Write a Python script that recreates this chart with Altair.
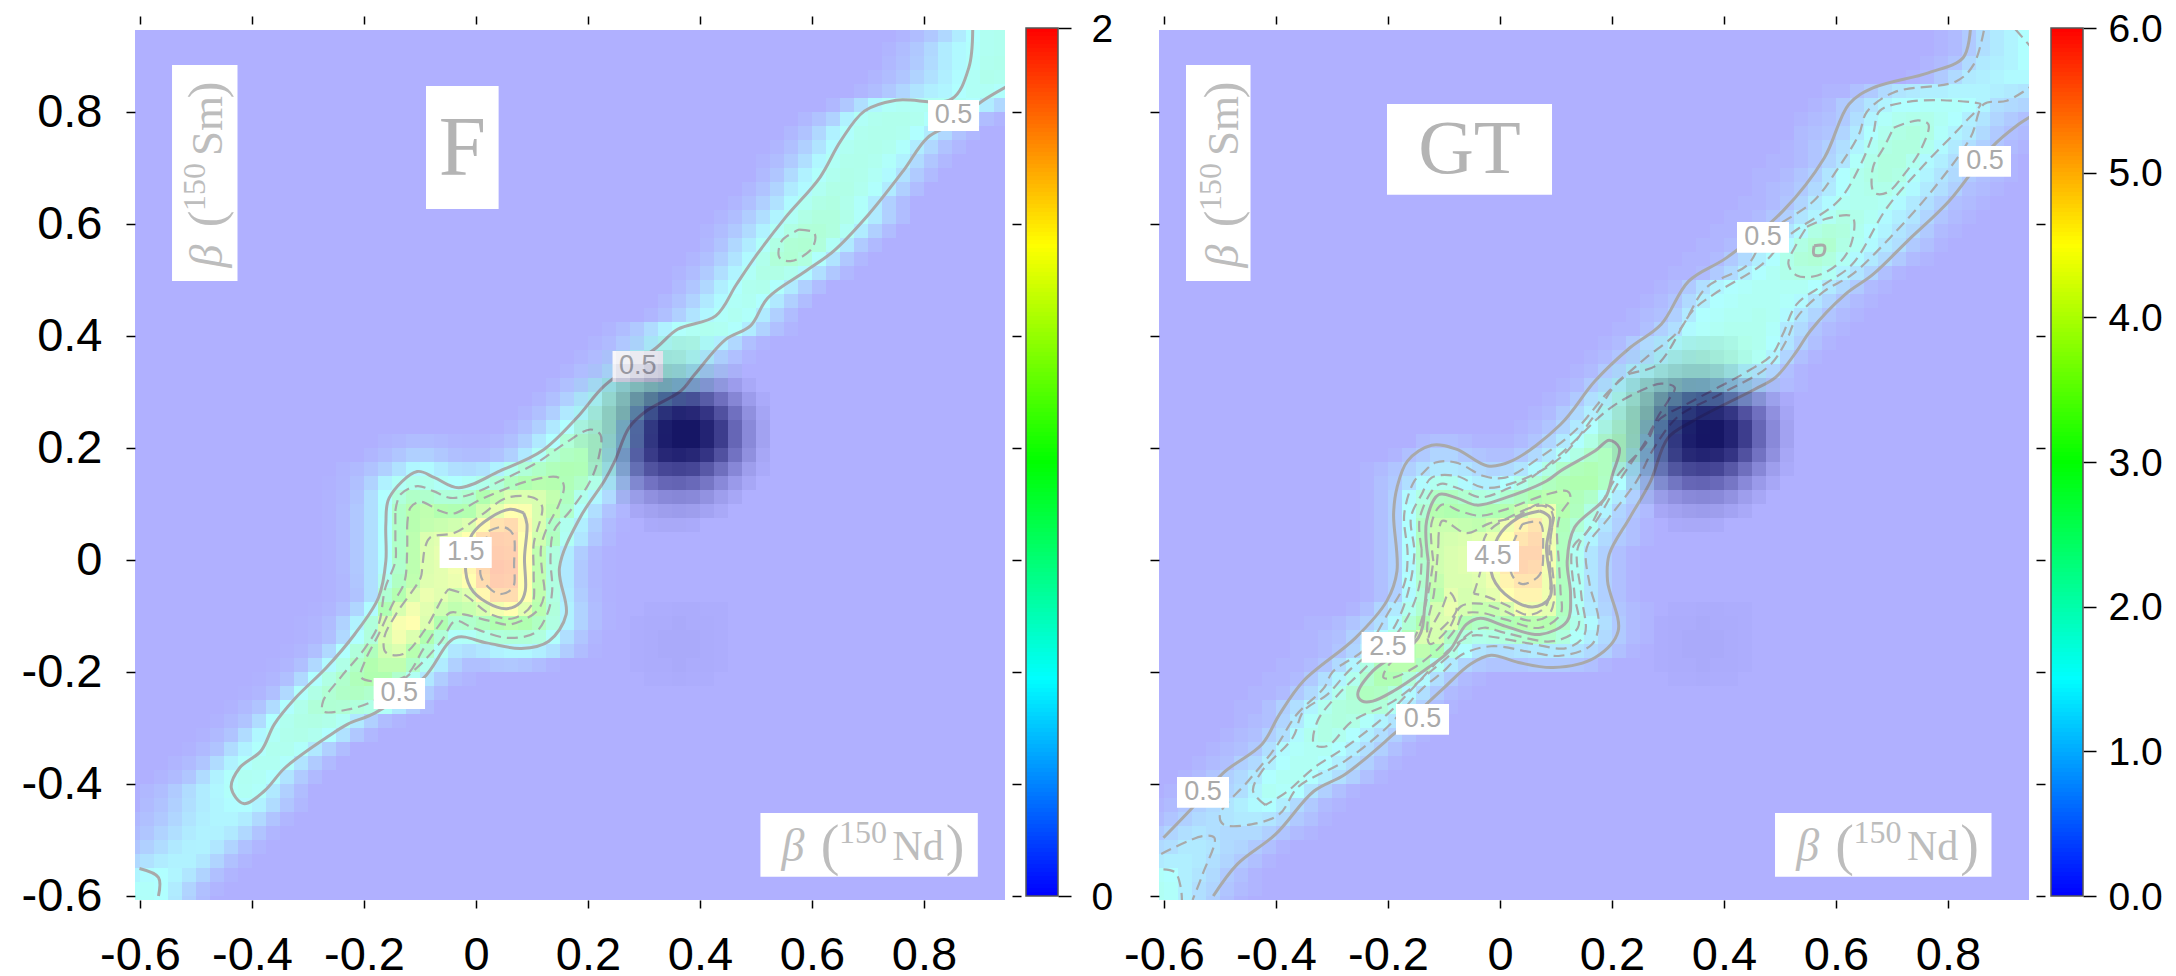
import altair as alt
import pandas as pd

# ---------- heat values: row -> (first column, values) ----------
# F in hundredths, GT in tenths, dark overlay in hundredths of opacity
F_ROWS = {
61:(54,[3,8,15,25,38,50,58,60]),60:(53,[3,8,15,25,38,46,52,58,60]),59:(53,[5,10,17,27,38,46,53,60,62]),
58:(52,[4,8,14,22,31,40,48,56,62,60]),57:(51,[4,8,15,24,33,40,44,50,56,56,52]),
56:(49,[5,15,30,45,54,56,57,58,58,56,50,38,25]),55:(47,[5,12,22,42,55,60,62,62,60,52,40,27,15,8,3]),
54:(46,[5,12,25,42,52,60,62,62,60,50,38,25,12,5]),53:(45,[4,10,20,33,48,58,62,63,60,52,38,25,12,5]),
52:(44,[3,8,17,30,45,56,62,63,60,53,42,27,14,5]),51:(44,[6,14,27,42,52,60,64,62,56,47,32,17,7]),
50:(43,[5,12,23,37,47,58,65,65,60,52,37,20,8]),49:(42,[4,10,20,32,47,58,66,68,63,53,37,20,8]),
48:(41,[4,9,18,30,43,56,66,71,71,64,53,37,20,8]),47:(40,[3,8,16,27,42,55,67,74,75,70,56,38,20,8]),
46:(40,[5,13,25,38,53,67,76,78,72,55,36,17,6]),45:(39,[4,10,20,33,47,62,74,77,70,52,33,15,5]),
44:(38,[3,8,17,30,43,55,65,66,60,47,30,15,5]),43:(38,[6,14,25,40,50,60,62,52,37,20,8]),
42:(37,[5,12,22,36,47,55,58,50,36,20,8]),41:(36,[4,10,20,33,45,53,58,53,37,20,8]),
40:(33,[3,8,16,28,42,52,57,60,58,52,38,22,10,3]),39:(32,[3,7,15,26,42,55,62,63,53,40,25,10,3]),
38:(31,[3,7,15,26,45,57,63,63,55,40,22,10,3]),37:(30,[3,8,15,28,47,60,66,66,60,48,30,15,5]),
36:(29,[4,10,20,37,53,63,68,68,63,50,33,17,6]),35:(28,[4,10,20,37,52,66,70,70,66,50,32,15,5]),
34:(27,[4,10,20,36,50,64,72,72,55,35,17,6]),33:(26,[4,10,20,36,50,66,72,72,55,33,15,5]),
32:(17,[3,5,8,8,6,4,3,3,5,10,20,36,50,75,82,82,66,50,30,12,4]),
31:(16,[4,8,14,20,20,15,10,8,8,12,20,36,55,78,87,92,82,58,34,14,4]),
30:(14,[3,6,12,20,32,45,47,38,30,28,32,42,60,75,85,93,97,95,78,55,30,12,3]),
29:(13,[1,4,10,22,42,55,63,62,55,50,55,62,73,90,100,105,103,95,85,65,42,22,7]),
28:(13,[2,5,13,30,50,72,85,82,74,74,80,100,112,125,127,125,112,90,62,45,27,10,3]),
27:(13,[2,6,15,30,52,85,105,110,102,98,102,120,135,150,147,125,108,82,52,30,13,4]),
26:(13,[2,6,15,30,50,85,105,112,116,120,128,152,168,173,155,125,85,60,40,20,7,1]),
25:(13,[2,6,15,30,50,85,108,127,132,138,150,170,180,178,150,120,90,57,34,15,5]),
24:(13,[2,6,15,30,50,85,108,128,135,142,152,175,182,180,150,110,70,38,18,6,1]),
23:(13,[2,6,15,30,48,82,108,128,133,142,155,175,184,182,150,110,68,36,16,5,1]),
22:(13,[2,5,14,30,60,88,110,130,133,138,150,172,182,180,150,110,68,36,16,5,1]),
21:(13,[2,5,12,30,78,102,125,138,132,120,130,155,172,172,150,110,68,38,18,6,1]),
20:(12,[1,4,10,24,48,98,125,142,132,118,110,115,125,142,150,133,105,72,42,22,8,2]),
19:(11,[1,3,8,22,42,72,125,145,150,128,100,78,82,90,100,105,100,88,68,42,22,8,2]),
18:(11,[1,4,10,26,50,72,125,142,128,100,75,53,55,65,72,75,75,70,52,30,14,4]),
17:(10,[1,4,10,26,50,72,92,120,128,105,80,55,35,30,35,42,45,45,40,32,18,8,2]),
16:(9,[1,4,10,26,47,65,85,102,110,110,85,60,38,20,10,10,14,15,13,8,3]),
15:(8,[1,4,10,26,50,67,82,93,100,100,82,58,35,18,7,3]),14:(7,[1,4,10,26,52,66,77,85,87,82,72,58,35,18,7]),
13:(6,[2,6,13,28,50,63,74,77,76,72,66,55,35,18,7]),12:(5,[2,6,13,28,50,60,66,67,64,56,36,20,8,3]),
11:(4,[2,6,13,28,45,55,62,64,60,50,32,15,5]),10:(3,[2,6,13,28,42,52,60,60,53,36,20,8]),
9:(2,[3,7,14,28,42,52,58,58,52,33,17,6]),8:(1,[3,7,14,28,42,52,58,56,50,33,17,6]),
7:(0,[5,9,17,28,38,45,53,57,53,36,20,8]),6:(0,[7,12,20,30,38,44,48,49,42,28,14,5]),
5:(-1,[5,10,16,24,33,40,44,44,38,26,13,4]),4:(-1,[8,14,22,30,37,42,42,36,25,13,4]),
3:(-1,[14,20,28,36,41,42,35,23,11,4]),2:(-1,[26,32,38,42,42,35,23,11,4]),1:(-1,[44,48,50,44,34,22,10,3]),
0:(-1,[52,53,50,38,23,10,3]),-1:(-1,[55,54,50,36,20,8]),
}
GT_ROWS = {
61:(55,[1,2,5,9,11,13,15]),60:(55,[1,2,5,9,11,13,15]),59:(54,[1,2,4,8,11,12,13,15]),58:(53,[1,2,5,8,11,12,13,14,14]),
57:(47,[1,1,3,5,8,10,11,12,12,13,13,13,12,11,10]),56:(46,[1,2,5,7,10,13,15,15,16,16,16,15,13,9,8,7]),
55:(45,[1,2,3,5,9,13,16,18,19,19,17,15,12,10,7,5,3]),54:(45,[2,3,4,7,11,15,18,20,21,20,16,13,11,8,5,3,2]),
53:(44,[1,2,4,6,9,13,17,20,21,21,18,14,11,9,6,4,2,1]),52:(43,[1,1,2,4,7,10,16,19,21,21,18,14,12,9,7,4,2,1]),
51:(42,[1,1,2,4,6,10,15,18,20,21,20,16,13,10,8,5,3,2,1]),50:(42,[1,2,3,5,8,11,15,18,19,19,17,14,11,9,6,3,2,1]),
49:(41,[1,1,2,4,7,11,14,17,18,18,17,14,11,9,6,3,2,1]),48:(40,[1,1,2,4,6,10,13,17,20,19,17,14,12,10,7,4,2,1]),
47:(39,[1,1,2,4,6,10,14,20,22,21,18,15,13,10,8,5,2,1]),46:(38,[1,1,2,3,6,10,14,20,23,24,20,17,14,11,9,5,3,1]),
45:(37,[1,1,2,5,8,12,15,19,22,23,21,17,14,11,8,5,2,1]),44:(36,[1,1,2,5,8,12,15,17,19,20,20,17,13,10,7,3,1]),
43:(35,[1,2,5,9,13,15,16,17,17,17,17,15,11,8,5,2,1]),42:(34,[1,2,4,8,12,15,16,17,17,17,16,14,10,7,4,2,1]),
41:(33,[1,2,3,6,11,15,16,17,17,18,17,14,10,7,4,2,1]),40:(32,[1,1,3,6,9,14,16,17,18,18,18,16,11,8,4,2,1]),
39:(31,[1,2,5,8,11,15,17,18,19,19,19,18,15,10,6,3,1]),38:(30,[1,2,4,7,10,14,17,19,20,20,20,19,17,13,7,3,1]),
37:(29,[1,2,5,8,13,16,18,19,20,20,19,17,14,11,7,3,1]),36:(28,[1,2,5,9,14,17,20,20,20,18,17,16,13,11,8,4,2,1]),
35:(27,[1,2,5,9,13,18,21,22,21,18,16,14,11,9,6,3,1]),34:(26,[1,2,5,8,12,16,20,23,23,20,15,10,6,3,1]),
33:(25,[1,2,4,7,11,15,19,23,24,20,15,10,5,2,1]),
32:(18,[2,3,3,2,1,1,1,2,4,7,11,15,20,24,26,23,16,11,5,2,1]),
31:(16,[1,3,5,7,7,5,4,3,3,5,8,11,16,20,25,27,26,19,13,8,4,2,1]),
30:(14,[1,2,4,6,9,11,11,10,8,7,8,10,14,20,25,28,29,27,20,13,9,5,2,1]),
29:(14,[1,3,5,9,14,18,18,14,12,12,15,19,23,27,29,30,30,26,15,10,6,3,1]),
28:(14,[1,3,6,14,20,26,27,24,21,20,24,27,30,32,32,28,25,16,11,6,3,1]),
27:(14,[1,3,6,15,23,31,30,29,28,29,31,35,42,42,31,27,20,13,7,4,2]),
26:(14,[1,3,6,15,26,35,35,34,33,36,42,47,50,42,28,23,17,10,6,3,1]),
25:(14,[1,3,6,15,27,36,37,38,39,41,45,50,52,42,27,19,13,8,5,3,1]),
24:(14,[1,3,6,15,26,36,38,39,40,43,49,53,53,43,27,17,10,6,3,1]),
23:(14,[1,3,6,14,24,36,38,39,40,43,49,53,52,43,27,17,10,6,3,1]),
22:(14,[1,3,6,15,24,34,38,38,39,42,47,50,50,42,27,17,10,6,3,1]),
21:(14,[1,3,6,14,22,32,40,37,38,40,45,47,47,42,27,17,10,6,3,1]),
20:(13,[1,3,7,11,18,24,37,41,37,34,34,37,43,42,40,27,17,11,7,4,2,1]),
19:(10,[1,1,2,4,6,9,14,23,30,38,39,29,26,27,29,31,32,31,25,19,14,9,5,2,1]),
18:(9,[1,1,2,3,6,9,14,20,28,38,37,26,21,19,20,21,24,26,25,21,16,12,8,5,2,1]),
17:(9,[1,1,2,4,7,11,17,24,31,33,29,20,15,10,9,9,10,11,11,11,10,8,6,3,1]),
16:(8,[1,1,2,4,8,13,20,28,32,32,27,17,11,7,5,4,4,4,5,5,5,4,3,1]),
15:(7,[1,1,2,5,9,13,18,24,29,29,22,14,9,5,2,1]),14:(6,[1,1,2,5,8,12,18,23,27,26,21,14,9,5,2,1]),
13:(5,[1,1,3,6,9,13,18,21,22,23,22,17,11,6,3,1]),12:(5,[1,2,3,7,11,16,20,21,20,16,13,10,6,3,1]),
11:(4,[1,2,3,6,9,14,18,20,18,15,12,9,6,3,1]),10:(3,[1,2,3,5,9,14,16,17,17,15,12,9,6,3,1]),
9:(2,[1,2,3,6,8,12,15,17,17,15,12,9,6,3,1]),8:(1,[1,2,4,6,8,11,15,17,17,15,12,9,6,3,1]),
7:(0,[1,2,3,5,7,9,13,17,16,15,10,6,3,1]),6:(-1,[1,2,4,6,8,10,12,14,15,12,8,5,2,1]),
5:(-1,[2,4,6,8,9,10,11,11,10,8,5,3,1]),4:(-1,[5,7,9,10,9,8,8,8,6,4,2,1]),3:(-1,[8,9,11,11,10,8,7,5,3,1]),
2:(-1,[11,12,12,11,9,7,5,3,1]),1:(-1,[16,15,12,10,8,5,3,1]),0:(-1,[17,16,12,9,7,4,2,1]),-1:(-1,[17,16,12,9,6,3,1]),
}
DARK_ROWS = {
39:(35,[3,5,6,6,5,3]),38:(33,[3,5,8,10,11,10,8,5,2]),37:(32,[3,6,10,14,18,20,20,18,14,8,4]),
36:(31,[3,8,15,22,28,33,36,36,33,27,19,11,4]),35:(31,[4,8,16,28,42,52,60,62,60,50,37,24,11,3]),
34:(31,[5,10,20,32,50,66,76,80,78,70,54,36,18,6]),33:(31,[5,10,20,35,55,72,84,88,88,80,65,42,22,8]),
32:(31,[5,10,20,35,55,72,84,88,88,80,65,42,22,8]),31:(32,[10,20,35,52,68,78,80,78,70,54,35,18,5]),
30:(32,[8,15,28,43,54,60,62,60,50,37,23,10,3]),29:(33,[8,16,27,35,42,43,40,33,22,12,5]),
28:(34,[8,13,18,22,23,22,17,10,5]),27:(35,[5,8,10,11,10,7,4]),26:(36,[3,4,4,3]),
20:(36,[1,1,2,2,1,1]),19:(35,[1,2,2,3,2,2,1]),18:(35,[1,2,3,3,3,2,1]),17:(35,[1,2,3,3,3,2,1]),
16:(35,[1,2,2,3,2,2,1]),15:(36,[1,1,2,1,1]),
}

# ---------- contours ----------
F_SOLID = [
 [(.887,.948),(.880,.879),(.849,.823),(.750,.821),(.694,.802),(.651,.748),(.614,.683),(.552,.611),(.502,.546),(.465,.492),(.428,.436),(.360,.412),(.322,.379),(.229,.311),(.180,.254),(.118,.195),(.043,.159),(-.031,.129),(-.074,.147),(-.105,.158),(-.155,.111),(-.161,.064),(-.161,-.002),(-.174,-.067),(-.217,-.133),(-.267,-.192),(-.322,-.246),(-.360,-.293),(-.384,-.341),(-.422,-.371),(-.437,-.407),(-.415,-.435),(-.378,-.4125),(-.341,-.371),(-.267,-.317),(-.229,-.293),(-.180,-.273),(-.093,-.210),(-.037,-.139),(.019,-.148),(.081,-.158),(.130,-.145),(.161,-.097),(.149,-.014),(.186,.076),(.229,.141),(.248,.177),(.273,.236),(.304,.266),(.366,.302),(.391,.332),(.446,.394),(.490,.418),(.521,.468),(.589,.516),(.639,.552),(.701,.617),(.763,.695),(.806,.754),(.849,.778),(.905,.820),(.949,.846)],
 [(-.601,-.551),(-.567,-.567),(-.567,-.6)],
 [(.085,.084),(.061,.0905),(.0255,.0756),(-.007,.0459),(-.019,-.0077),(-.010,-.049),(.0196,-.076),(.055,-.087),(.079,-.076),(.088,-.055),(.0866,.004),(.091,.064),(.085,.084)],
]
F_DASHED = [
 [(.0226,.052),(.049,.059),(.066,.046),(.068,-.008),(.066,-.049),(.043,-.061),(.0226,-.049),(.008,-.026),(.0226,.052)],
 [(-.049,-.052),(-.022,-.061),(.026,-.097),(.067,-.104),(.1,-.079),(.103,-.026),(.103,.028),(.118,.096),(.103,.111),(.055,.111),(.008,.079),(-.037,.049),(-.082,.04),(-.091,.022),(-.096,-.014),(-.099,-.032),(-.143,-.097),(-.164,-.139),(-.161,-.165),(-.130,-.168),(-.093,-.127),(-.056,-.061),(-.049,-.052)],
 [(-.123,.058),(-.117,.0935),(-.099,.104),(-.064,.0875),(-.040,.083),(.002,.105),(.043,.123),(.097,.142),(.148,.147),(.157,.132),(.148,.099),(.127,.058),(.116,.022),(.118,-.020),(.122,-.061),(.109,-.091),(.061,-.115),(.026,-.109),(-.022,-.097),(-.046,-.094),(-.067,-.118),(-.093,-.157),(-.130,-.210),(-.205,-.210),(-.198,-.180),(-.174,-.133),(-.149,-.079),(-.128,-.04),(-.123,.016),(-.123,.058)],
 [(-.144,.0875),(-.135,.117),(-.105,.132),(-.076,.123),(-.046,.111),(-.010,.117),(.043,.141),(.109,.174),(.157,.207),(.204,.233),(.222,.224),(.219,.183),(.204,.141),(.168,.0875),(.139,.052),(.133,.004),(.136,-.055),(.127,-.097),(.105,-.130),(.056,-.139),(-.006,-.121),(-.037,-.109),(-.062,-.145),(-.105,-.192),(-.180,-.25),(-.229,-.267),(-.273,-.270),(-.273,-.252),(-.242,-.210),(-.198,-.157),(-.174,-.115),(-.162,-.05),(-.144,-.002),(-.144,.040),(-.144,.0875)],
 [(.577,.590),(.604,.584),(.601,.558),(.564,.534),(.542,.540),(.546,.570),(.577,.590)],
]
GT_SOLID = [
 [(-.601,-.496),(-.549,-.442),(-.494,-.380),(-.425,-.329),(-.394,-.276),(-.351,-.216),(-.258,-.139),(-.202,-.073),(-.184,-.020),(-.190,.082),(-.184,.129),(-.165,.177),(-.122,.205),(-.078,.198),(-.022,.168),(.021,.177),(.108,.242),(.170,.320),(.232,.379),(.288,.421),(.337,.498),(.405,.540),(.505,.623),(.579,.718),(.623,.814),(.666,.843),(.765,.870),(.827,.897),(.840,.948)],
 [(-.512,-.6),(-.469,-.543),(-.401,-.490),(-.332,-.4125),(-.277,-.383),(-.190,-.311),(-.103,-.231),(-.053,-.186),(-.016,-.170),(.033,-.183),(.095,-.192),(.170,-.174),(.211,-.127),(.192,-.0375),(.195,.010),(.232,.076),(.269,.141),(.300,.218),(.344,.248),(.455,.305),(.492,.326),(.530,.373),(.554,.409),(.616,.474),(.666,.510),(.728,.570),(.802,.641),(.877,.736),(.926,.778),(.949,.793)],
 [(-.128,-.002),(-.131,.070),(-.109,.117),(-.078,.111),(-.041,.098),(.009,.111),(.083,.141),(.108,.159),(.170,.195),(.195,.214),(.213,.2),(.201,.153),(.188,.111),(.133,.058),(.120,-.002),(.126,-.061),(.120,-.109),(.071,-.133),(.009,-.118),(-.035,-.104),(-.06,-.115),(-.091,-.163),(-.128,-.192),(-.190,-.234),(-.227,-.252),(-.246,-.252),(-.254,-.240),(-.227,-.198),(-.146,-.139),(-.134,-.079),(-.128,-.002)],
 [(.071,.0875),(.033,.0756),(-.004,.04),(-.016,-.02),(.009,-.061),(.058,-.084),(.089,-.067),(.083,.022),(.089,.0756),(.071,.0875)],
 [(.561,.561),(.579,.561),(.577,.546),(.561,.545),(.561,.561)],
]
GT_DASHED = [
 [(-.605,-.525),(-.531,-.493),(-.510,-.496),(-.531,-.561),(-.549,-.607)],
 [(-.601,-.5525),(-.580,-.558),(-.570,-.585),(-.568,-.607)],
 [(.920,.948),(.949,.915)],
 [(.864,.945),(.846,.885),(.815,.855),(.703,.835),(.655,.80),(.641,.76),(.604,.70),(.56,.641),(.474,.58),(.443,.528),(.368,.486),(.319,.409),(.257,.358),(.195,.302),(.133,.230),(.071,.183),(.009,.147),(-.029,.150),(-.078,.174),(-.115,.174),(-.140,.153),(-.153,.141),(-.171,.082),(-.165,.010),(-.171,-.043),(-.2,-.095),(-.239,-.157),(-.299,-.2),(-.314,-.228),(-.363,-.276),(-.401,-.335),(-.450,-.395),(-.500,-.454),(-.494,-.472),(-.444,-.472),(-.394,-.454),(-.36,-.405),(-.277,-.359),(-.202,-.299),(-.14,-.231),(-.1,-.198),(-.07,-.17),(-.016,-.154),(.058,-.165),(.108,-.171),(.164,-.151),(.176,-.109),(.160,-.043),(.155,.022),(.195,.076),(.244,.141),(.275,.2),(.319,.257),(.393,.296),(.480,.346),(.511,.391),(.530,.433),(.579,.480),(.629,.510),(.697,.576),(.771,.659),(.840,.754),(.864,.814),(.905,.82),(.949,.846)],
 [(-.419,-.4375),(-.441,-.4125),(-.425,-.377),(-.370,-.317),(-.351,-.270),(-.308,-.240),(-.27,-.198),(-.202,-.139),(-.171,-.08),(-.153,.010),(-.159,.076),(-.140,.117),(-.122,.147),(-.078,.150),(-.029,.129),(.033,.141),(.108,.183),(.170,.260),(.219,.326),(.281,.349),(.344,.445),(.381,.474),(.468,.528),(.517,.58),(.604,.641),(.641,.70),(.666,.76),(.678,.802),(.728,.818),(.790,.821),(.852,.816),(.858,.814),(.827,.778),(.753,.701),(.691,.629),(.629,.528),(.579,.492),(.530,.457),(.505,.403),(.486,.367),(.443,.3375),(.344,.284),(.281,.248),(.257,.207),(.213,.141),(.176,.076),(.139,.022),(.145,-.061),(.151,-.133),(.120,-.157),(.058,-.15),(-.022,-.136),(-.05,-.135),(-.085,-.155),(-.12,-.19),(-.153,-.226),(-.202,-.276),(-.277,-.335),(-.332,-.371),(-.382,-.415),(-.419,-.4375)],
 [(.703,.772),(.747,.785),(.765,.778),(.753,.736),(.722,.689),(.691,.656),(.668,.656),(.666,.701),(.685,.736),(.703,.772)],
 [(.548,.595),(.585,.610),(.629,.613),(.629,.571),(.610,.535),(.567,.508),(.530,.508),(.515,.529),(.530,.565),(.548,.595)],
 [(-.14,.02),(-.143,.076),(-.109,.135),(-.075,.128),(-.035,.112),(.015,.128),(.06,.15),(.12,.2),(.195,.27),(.257,.305),(.288,.315),(.312,.308),(.300,.284),(.281,.254),(.262,.21),(.207,.147),(.155,.05),(.13,.022),(.133,-.061),(.139,-.121),(.095,-.145),(.009,-.130),(-.029,-.121),(-.06,-.135),(-.085,-.165),(-.125,-.2),(-.190,-.252),(-.264,-.288),(-.308,-.332),(-.332,-.329),(-.326,-.288),(-.289,-.240),(-.246,-.198),(-.19,-.139),(-.159,-.09),(-.143,-.04),(-.14,.02)],
 [(-.119,-.002),(-.122,.067),(-.103,.099),(-.072,.0875),(-.035,.079),(.009,.090),(.083,.117),(.120,.123),(.126,.111),(.108,.082),(.102,.052),(.105,-.002),(.108,-.055),(.108,-.097),(.071,-.121),(.009,-.106),(-.035,-.094),(-.066,-.097),(-.078,-.121),(-.109,-.157),(-.153,-.192),(-.190,-.210),(-.208,-.210),(-.202,-.192),(-.153,-.139),(-.130,-.067),(-.119,-.002)],
 [(-.11,.03),(-.103,.07),(-.06,.048),(-.02,.065),(.03,.078),(.07,.1),(.095,.09),(.09,.04),(.093,-.01),(.097,-.07),(.085,-.1),(.05,-.108),(.005,-.09),(-.035,-.078),(-.07,-.083),(-.09,-.12),(-.125,-.15),(-.13,-.12),(-.118,-.06),(-.11,.03)],
 [(-.047,-.06),(-.035,-.02),(-.025,.045),(.03,.083),(.075,.097),(.093,.085),(.088,.02),(.09,-.05),(.08,-.085),(.05,-.098),(.01,-.08),(-.025,-.065),(-.047,-.06)],
 [(-.128,-.139),(-.122,-.121),(-.103,-.085),(-.091,-.058),(-.084,-.064),(-.078,-.091),(-.109,-.127)],
 [(.04,.064),(.071,.067),(.077,.022),(.071,-.026),(.04,-.043),(.021,-.026),(.021,.022),(.04,.064)],
]

# ---------- boxes: x0, x1, y0, y1, text ----------
F_BOXES = [(.8072,.8982,.7661,.8215,"0.5"),(.2438,.3340,.3179,.3733,"0.5"),(-.0650,.0281,-.0142,.0411,"1.5"),(-.1828,-.0910,-.2660,-.2107,"0.5")]
GT_BOXES = [(.8193,.9125,.6845,.7393,"0.5"),(.4232,.5161,.5488,.6036,"0.5"),(-.0589,.0340,-.0208,.0340,"4.5"),(-.2471,-.1528,-.1833,-.1285,"2.5"),(-.1857,-.0910,-.3119,-.2571,"0.5"),(-.5768,-.4839,-.4423,-.3875,"0.5")]
F_PANEL_BOXES = [(-.0893,.0404,.6268,.8465),(-.5428,-.4259,.4983,.8840),(.5079,.8961,-.5655,-.4517)]
GT_PANEL_BOXES = [(-.2018,.0929,.6524,.8143),(-.5607,-.4455,.4983,.8840),(.4911,.8777,-.5655,-.4517)]
F_TITLE = ("F", -.0245, .7340, 85)
GT_TITLE = ("GT", -.0545, .7330, 77)
# text pieces: text, x, y, size, italic
Y_PIECES = [("β", -.4785, .5429, 46, True), ("(", -.4785, .6090, 50, False), ("150", -.5018, .6661, 32, False), ("Sm", -.4785, .7750, 45, False), (")", -.4785, .8393, 50, False)]
X_PIECES = [("β", .5661, -.5125, 46, True), ("(", .6322, -.5125, 56, False), ("150", .6911, -.4875, 32, False), ("Nd", .7893, -.5125, 42, False), (")", .8554, -.5125, 56, False)]
GT_Y_SHIFT = -.0143
GT_X_SHIFT = -.0168

TICKS = [-.6, -.4, -.2, 0, .2, .4, .6, .8]
CB_STEPS = 217
GREY = "#a9a9a9"
FONT = "Liberation Sans"
SERIF = "Liberation Serif"

X0 = -0.6 - 5 / 560
Y0 = -0.6 - 4 / 560
SX = alt.Scale(domain=[X0, X0 + 870 / 560], nice=False, zero=False)
SY = alt.Scale(domain=[Y0, Y0 + 870 / 560], nice=False, zero=False)
LABEL = "'' + round(datum.value * 10) / 10"


def grid(rows, unit):
    out = []
    for j in range(-1, 62):
        start, vals = rows.get(j, (0, []))
        for i in range(-1, 62):
            k = i - start
            v = vals[k] * unit if 0 <= k < len(vals) else 0.0
            out.append({"x": -.6 + i * .025, "x2": -.6 + (i + 1) * .025, "y": -.6 + j * .025, "y2": -.6 + (j + 1) * .025, "v": v})
    return pd.DataFrame(out)


def dark():
    out = []
    for j, (start, vals) in DARK_ROWS.items():
        for k, v in enumerate(vals):
            i = start + k
            out.append({"x": -.6 + i * .025, "x2": -.6 + (i + 1) * .025, "y": -.6 + j * .025, "y2": -.6 + (j + 1) * .025, "d": v / 100})
    return pd.DataFrame(out)


def lines(cs):
    return pd.DataFrame([{"c": n, "o": k, "x": p[0], "y": p[1]} for n, c in enumerate(cs) for k, p in enumerate(c)])


def color_scale(top):
    return alt.Scale(domain=[0, top * .25, top * .5, top * .75, top], range=["#0000ff", "#00ffff", "#00ff00", "#ffff00", "#ff0000"], interpolate="rgb")


NX = alt.X("x:Q", scale=SX, axis=None, title=None)
NY = alt.Y("y:Q", scale=SY, axis=None, title=None)


def pieces(items, angle, dx, dy):
    out = []
    for t, x, y, size, italic in items:
        out.append(alt.Chart(pd.DataFrame([{"t": t, "x": x + dx, "y": y + dy}])).mark_text(
            font=SERIF, fontSize=size, color="#bdbdbd", angle=angle, fontStyle="italic" if italic else "normal").encode(x=NX, y=NY, text="t:N"))
    return out


def panel(rows, unit, top, solid, dashed, boxes, pboxes, title, yshift, xshift, show_labels):
    heat = alt.Chart(grid(rows, unit)).mark_rect(clip=True, opacity=.31, strokeWidth=0).encode(
        x=alt.X("x:Q", scale=SX, title=None, axis=alt.Axis(orient="bottom", values=TICKS, labelExpr=LABEL, domain=False, grid=False, tickSize=8, tickWidth=1.5, tickColor="black", labelFont=FONT, labelFontSize=47, labelColor="black", labelPadding=24, labelOverlap=False)),
        x2="x2:Q",
        y=alt.Y("y:Q", scale=SY, title=None, axis=alt.Axis(orient="left", values=TICKS, labelExpr=LABEL, domain=False, grid=False, tickSize=9, tickWidth=1.5, tickColor="black", labels=show_labels, labelFont=FONT, labelFontSize=47, labelColor="black", labelPadding=24, labelOverlap=False)),
        y2="y2:Q",
        color=alt.Color("v:Q", scale=color_scale(top), legend=None),
    )
    sol = alt.Chart(lines(solid)).mark_line(clip=True, color=GREY, strokeWidth=3, interpolate="catmull-rom").encode(x=NX, y=NY, detail="c:N", order="o:Q")
    das = alt.Chart(lines(dashed)).mark_line(clip=True, color=GREY, strokeWidth=2.2, strokeDash=[11, 6], interpolate="catmull-rom").encode(x=NX, y=NY, detail="c:N", order="o:Q")
    b = pd.DataFrame([{"x": q[0], "x2": q[1], "y": q[2], "y2": q[3], "t": q[4], "mx": (q[0] + q[1]) / 2, "my": (q[2] + q[3]) / 2} for q in boxes])
    bx = alt.Chart(b).mark_rect(fill="white").encode(x=NX, x2="x2:Q", y=NY, y2="y2:Q")
    bt = alt.Chart(b).mark_text(font=FONT, fontSize=27, color="#aaaaaa").encode(x=alt.X("mx:Q", scale=SX, axis=None), y=alt.Y("my:Q", scale=SY, axis=None), text="t:N")
    p = pd.DataFrame(pboxes, columns=["x", "x2", "y", "y2"])
    pb = alt.Chart(p).mark_rect(fill="white").encode(x=NX, x2="x2:Q", y=NY, y2="y2:Q")
    tt = alt.Chart(pd.DataFrame([{"t": title[0], "x": title[1], "y": title[2]}])).mark_text(font=SERIF, fontSize=title[3], color="#b4b4b4").encode(x=NX, y=NY, text="t:N")
    dk = alt.Chart(dark()).mark_rect(clip=True, color="#000050", strokeWidth=0).encode(x=NX, x2="x2:Q", y=NY, y2="y2:Q", opacity=alt.Opacity("d:Q", scale=None))
    ax = alt.Chart(pd.DataFrame([{"x": 0, "y": 0}])).mark_point(opacity=0).encode(
        x=alt.X("x:Q", scale=SX, title=None, axis=alt.Axis(orient="top", values=TICKS, labels=False, domain=False, grid=False, tickSize=8, tickWidth=1.5, tickColor="black", offset=6)),
        y=alt.Y("y:Q", scale=SY, title=None, axis=alt.Axis(orient="right", values=TICKS, labels=False, domain=False, grid=False, tickSize=9, tickWidth=1.5, tickColor="black", offset=7)),
    )
    txt = pieces(Y_PIECES, 270, yshift, 0) + pieces(X_PIECES, 0, xshift, 0)
    return alt.layer(heat, sol, das, bx, bt, pb, tt, *txt, dk, ax).resolve_axis(x="independent", y="independent").properties(width=870, height=870)


def colorbar(top, ticks, fmt, pad):
    per = 868 / top
    sy = alt.Scale(domain=[-4 / per, top], range=[870, -2], nice=False, zero=False)
    step = top / CB_STEPS
    df = pd.DataFrame([{"lo": k * step, "hi": (k + 1) * step, "m": (k + .5) * step} for k in range(CB_STEPS)])
    bar = alt.Chart(df).mark_rect(strokeWidth=0).encode(
        x=alt.value(0), x2=alt.value(32),
        y=alt.Y("lo:Q", scale=sy, title=None, axis=alt.Axis(orient="right", values=ticks, format=fmt, domain=False, grid=False, tickSize=13, tickWidth=1.5, tickColor="black", labelFont=FONT, labelFontSize=39, labelOffset=1, labelColor="black", labelPadding=pad, labelOverlap=False)),
        y2="hi:Q",
        color=alt.Color("m:Q", scale=color_scale(top), legend=None),
    )
    fr = alt.Chart(pd.DataFrame([{"lo": 0, "hi": top}])).mark_rect(fillOpacity=0, stroke="#555555", strokeWidth=1.5).encode(
        x=alt.value(0), x2=alt.value(32), y=alt.Y("lo:Q", scale=sy, axis=None, title=None), y2="hi:Q")
    return alt.layer(bar, fr).resolve_axis(y="independent").properties(width=32, height=870)


def spacer(w):
    return alt.Chart(pd.DataFrame([{"a": 0}])).mark_point(opacity=0).encode(x=alt.value(0), y=alt.value(0)).properties(width=w, height=870)


p1 = panel(F_ROWS, .01, 2, F_SOLID, F_DASHED, F_BOXES, F_PANEL_BOXES, F_TITLE, 0, 0, True)
c1 = colorbar(2, [0, 1, 2], "d", 20)
p2 = panel(GT_ROWS, .1, 6, GT_SOLID, GT_DASHED, GT_BOXES, GT_PANEL_BOXES, GT_TITLE, GT_Y_SHIFT, GT_X_SHIFT, False)
c2 = colorbar(6, [0, 1, 2, 3, 4, 5, 6], ".1f", 12)

chart = alt.hconcat(p1, spacer(21), c1, spacer(101), p2, spacer(22), c2, spacing=0, bounds="flush").resolve_scale(color="independent").properties(
    padding={"left": 13, "top": 2, "right": 0, "bottom": 0}
).configure_view(strokeWidth=0)

chart.save("out.html", embed_options={"renderer": "svg", "actions": False})
